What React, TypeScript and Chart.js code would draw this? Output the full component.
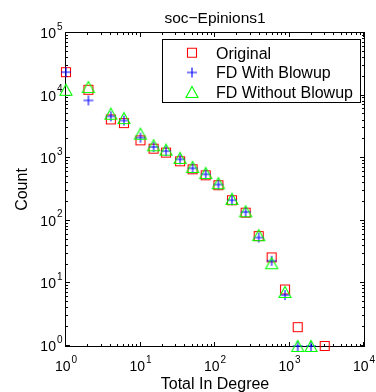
import React, { useEffect, useRef } from "react";
import { Chart, registerables } from "chart.js";

Chart.register(...registerables);

// ---- data ----
const seriesNames = ["Original", "FD With Blowup", "FD Without Blowup"];
const degreesOriginal = [1, 2, 4, 6, 10, 15, 22, 34, 50, 75, 111, 169, 258, 386, 576, 871, 1290, 2970];
const countsOriginal = [23700, 12400, 4170, 3640, 1930, 1420, 1230, 893, 665, 533, 370, 213, 135, 57, 26, 8, 2, 1];
const degreesFD = [1, 2, 4, 6, 10, 15, 22, 34, 50, 75, 111, 169, 258, 386, 576, 871, 1290, 1944];
const countsWithBlowup = [23700, 8380, 4660, 4000, 2130, 1510, 1300, 960, 690, 553, 380, 213, 138, 54, 23, 6.5, 1, 1];
const countsWithoutBlowup = [12400, 13700, 5140, 4370, 2460, 1610, 1370, 1010, 724, 580, 398, 224, 142, 59, 21, 7.3, 1, 1];
const xTickExponents = [0, 1, 2, 3, 4];
const yTickExponents = [0, 1, 2, 3, 4, 5];
const titleText = "soc\u2212Epinions1";
const xLabel = "Total In Degree";
const yLabel = "Count";

const FONT = '"Liberation Sans", Arial, Helvetica, sans-serif';

function makeMarker(kind: string, color: string): HTMLCanvasElement {
  const c = document.createElement("canvas");
  c.width = 16;
  c.height = 16;
  const ctx = c.getContext("2d")!;
  ctx.strokeStyle = color;
  ctx.lineWidth = 1.1;
  const m = 8;
  ctx.beginPath();
  if (kind === "square") {
    ctx.rect(m - 4.5, m - 4.5, 9, 9);
  } else if (kind === "plus") {
    ctx.moveTo(m - 5, m);
    ctx.lineTo(m + 5, m);
    ctx.moveTo(m, m - 5);
    ctx.lineTo(m, m + 5);
  } else {
    ctx.moveTo(m, m - 5.5);
    ctx.lineTo(m + 6, m + 5.5);
    ctx.lineTo(m - 6, m + 5.5);
    ctx.closePath();
  }
  ctx.stroke();
  return c;
}

function drawPow(ctx: CanvasRenderingContext2D, exp: number, x: number, baseY: number, align: "center" | "right") {
  ctx.font = `14px ${FONT}`;
  const wb = ctx.measureText("10").width;
  ctx.font = `10px ${FONT}`;
  const we = ctx.measureText(String(exp)).width;
  const gap = 1;
  const total = wb + gap + we;
  const left = align === "center" ? x - total / 2 : x - total;
  ctx.textAlign = "left";
  ctx.textBaseline = "alphabetic";
  ctx.font = `14px ${FONT}`;
  ctx.fillText("10", left, baseY);
  ctx.font = `10px ${FONT}`;
  ctx.fillText(String(exp), left + wb + gap, baseY - 8.5);
}

export default function App() {
  const ref = useRef<HTMLCanvasElement | null>(null);

  useEffect(() => {
    const canvas = ref.current;
    if (!canvas) return;
    const markers = [
      makeMarker("square", "#ff0000"),
      makeMarker("plus", "#0000ff"),
      makeMarker("triangle", "#00ff00"),
    ];

    const axesPlugin = {
      id: "matlabAxes",
      beforeDatasetsDraw(chart: any) {
        const ctx: CanvasRenderingContext2D = chart.ctx;
        const { left, right, top, bottom } = chart.chartArea;
        const xs = chart.scales.x;
        const ys = chart.scales.y;
        ctx.save();
        ctx.strokeStyle = "#000";
        ctx.lineWidth = 1;
        ctx.strokeRect(left - 0.5, top - 0.5, right - left + 1, bottom - top + 1);
        ctx.beginPath();
        const xMaxE = xTickExponents[xTickExponents.length - 1];
        for (let e = xTickExponents[0]; e <= xMaxE; e++) {
          for (let k = 1; k <= 9; k++) {
            const v = k * Math.pow(10, e);
            if (v > Math.pow(10, xMaxE)) break;
            const px = Math.round(xs.getPixelForValue(v)) - 0.5;
            const len = k === 1 ? 4 : 2;
            ctx.moveTo(px, bottom);
            ctx.lineTo(px, bottom - len);
            ctx.moveTo(px, top);
            ctx.lineTo(px, top + len);
          }
        }
        const yMaxE = yTickExponents[yTickExponents.length - 1];
        for (let e = yTickExponents[0]; e <= yMaxE; e++) {
          for (let k = 1; k <= 9; k++) {
            const v = k * Math.pow(10, e);
            if (v > Math.pow(10, yMaxE)) break;
            const py = Math.round(ys.getPixelForValue(v)) - 0.5;
            const len = k === 1 ? 4 : 2;
            ctx.moveTo(left, py);
            ctx.lineTo(left + len, py);
            ctx.moveTo(right, py);
            ctx.lineTo(right - len, py);
          }
        }
        ctx.stroke();
        ctx.restore();
      },
      afterDatasetsDraw(chart: any) {
        const ctx: CanvasRenderingContext2D = chart.ctx;
        const { left, right, top, bottom } = chart.chartArea;
        const xs = chart.scales.x;
        const ys = chart.scales.y;
        ctx.save();
        ctx.fillStyle = "#000";
        xTickExponents.forEach((e) => {
          drawPow(ctx, e, xs.getPixelForValue(Math.pow(10, e)), 371, "center");
        });
        yTickExponents.forEach((e) => {
          drawPow(ctx, e, left - 3.5, ys.getPixelForValue(Math.pow(10, e)) + 5, "right");
        });
        ctx.font = `15.5px ${FONT}`;
        ctx.textAlign = "center";
        ctx.textBaseline = "alphabetic";
        ctx.fillText(titleText, (left + right) / 2, 22.5);
        ctx.font = `16px ${FONT}`;
        ctx.fillText(xLabel, (left + right) / 2, 388.5);
        ctx.save();
        ctx.translate(27, (top + bottom) / 2);
        ctx.rotate(-Math.PI / 2);
        ctx.fillText(yLabel, 0, 0);
        ctx.restore();
        // legend
        const lx = 162.5, ly = 39.5, lw = 198, lh = 63;
        ctx.fillStyle = "#fff";
        ctx.fillRect(lx, ly, lw, lh);
        ctx.strokeStyle = "#000";
        ctx.lineWidth = 1;
        ctx.strokeRect(lx, ly, lw, lh);
        const rowY = [52.7, 72.5, 92];
        ctx.font = `16px ${FONT}`;
        ctx.textAlign = "left";
        ctx.fillStyle = "#000";
        seriesNames.forEach((name, i) => {
          const m = markers[i];
          ctx.drawImage(m, 192 - m.width / 2, rowY[i] - m.height / 2);
          ctx.fillText(name, 216, rowY[i] + 5.8);
        });
        ctx.restore();
      },
    };

    const mk = (xs: number[], ys: number[]) => xs.map((x, i) => ({ x, y: ys[i] }));

    const chart = new Chart(canvas, {
      type: "scatter",
      data: {
        datasets: [
          { label: seriesNames[0], data: mk(degreesOriginal, countsOriginal), pointStyle: markers[0] as any, pointRadius: 5, clip: false as any, order: 3, showLine: false },
          { label: seriesNames[1], data: mk(degreesFD, countsWithBlowup), pointStyle: markers[1] as any, pointRadius: 5, clip: false as any, order: 2, showLine: false },
          { label: seriesNames[2], data: mk(degreesFD, countsWithoutBlowup), pointStyle: markers[2] as any, pointRadius: 5, clip: false as any, order: 1, showLine: false },
        ],
      },
      options: {
        responsive: false,
        animation: false,
        events: [],
        layout: { padding: { left: 66, right: 12, top: 33, bottom: 46 } },
        plugins: { legend: { display: false }, tooltip: { enabled: false }, title: { display: false } },
        scales: {
          x: { type: "logarithmic", min: 1, max: 10000, display: false },
          y: { type: "logarithmic", min: 1, max: 100000, display: false },
        },
      },
      plugins: [axesPlugin],
    });
    return () => chart.destroy();
  }, []);

  return (
    <div style={{ position: "absolute", left: 0, top: 0, width: 376, height: 392, background: "#fff" }}>
      <canvas ref={ref} width={376} height={392} style={{ display: "block" }} />
    </div>
  );
}
